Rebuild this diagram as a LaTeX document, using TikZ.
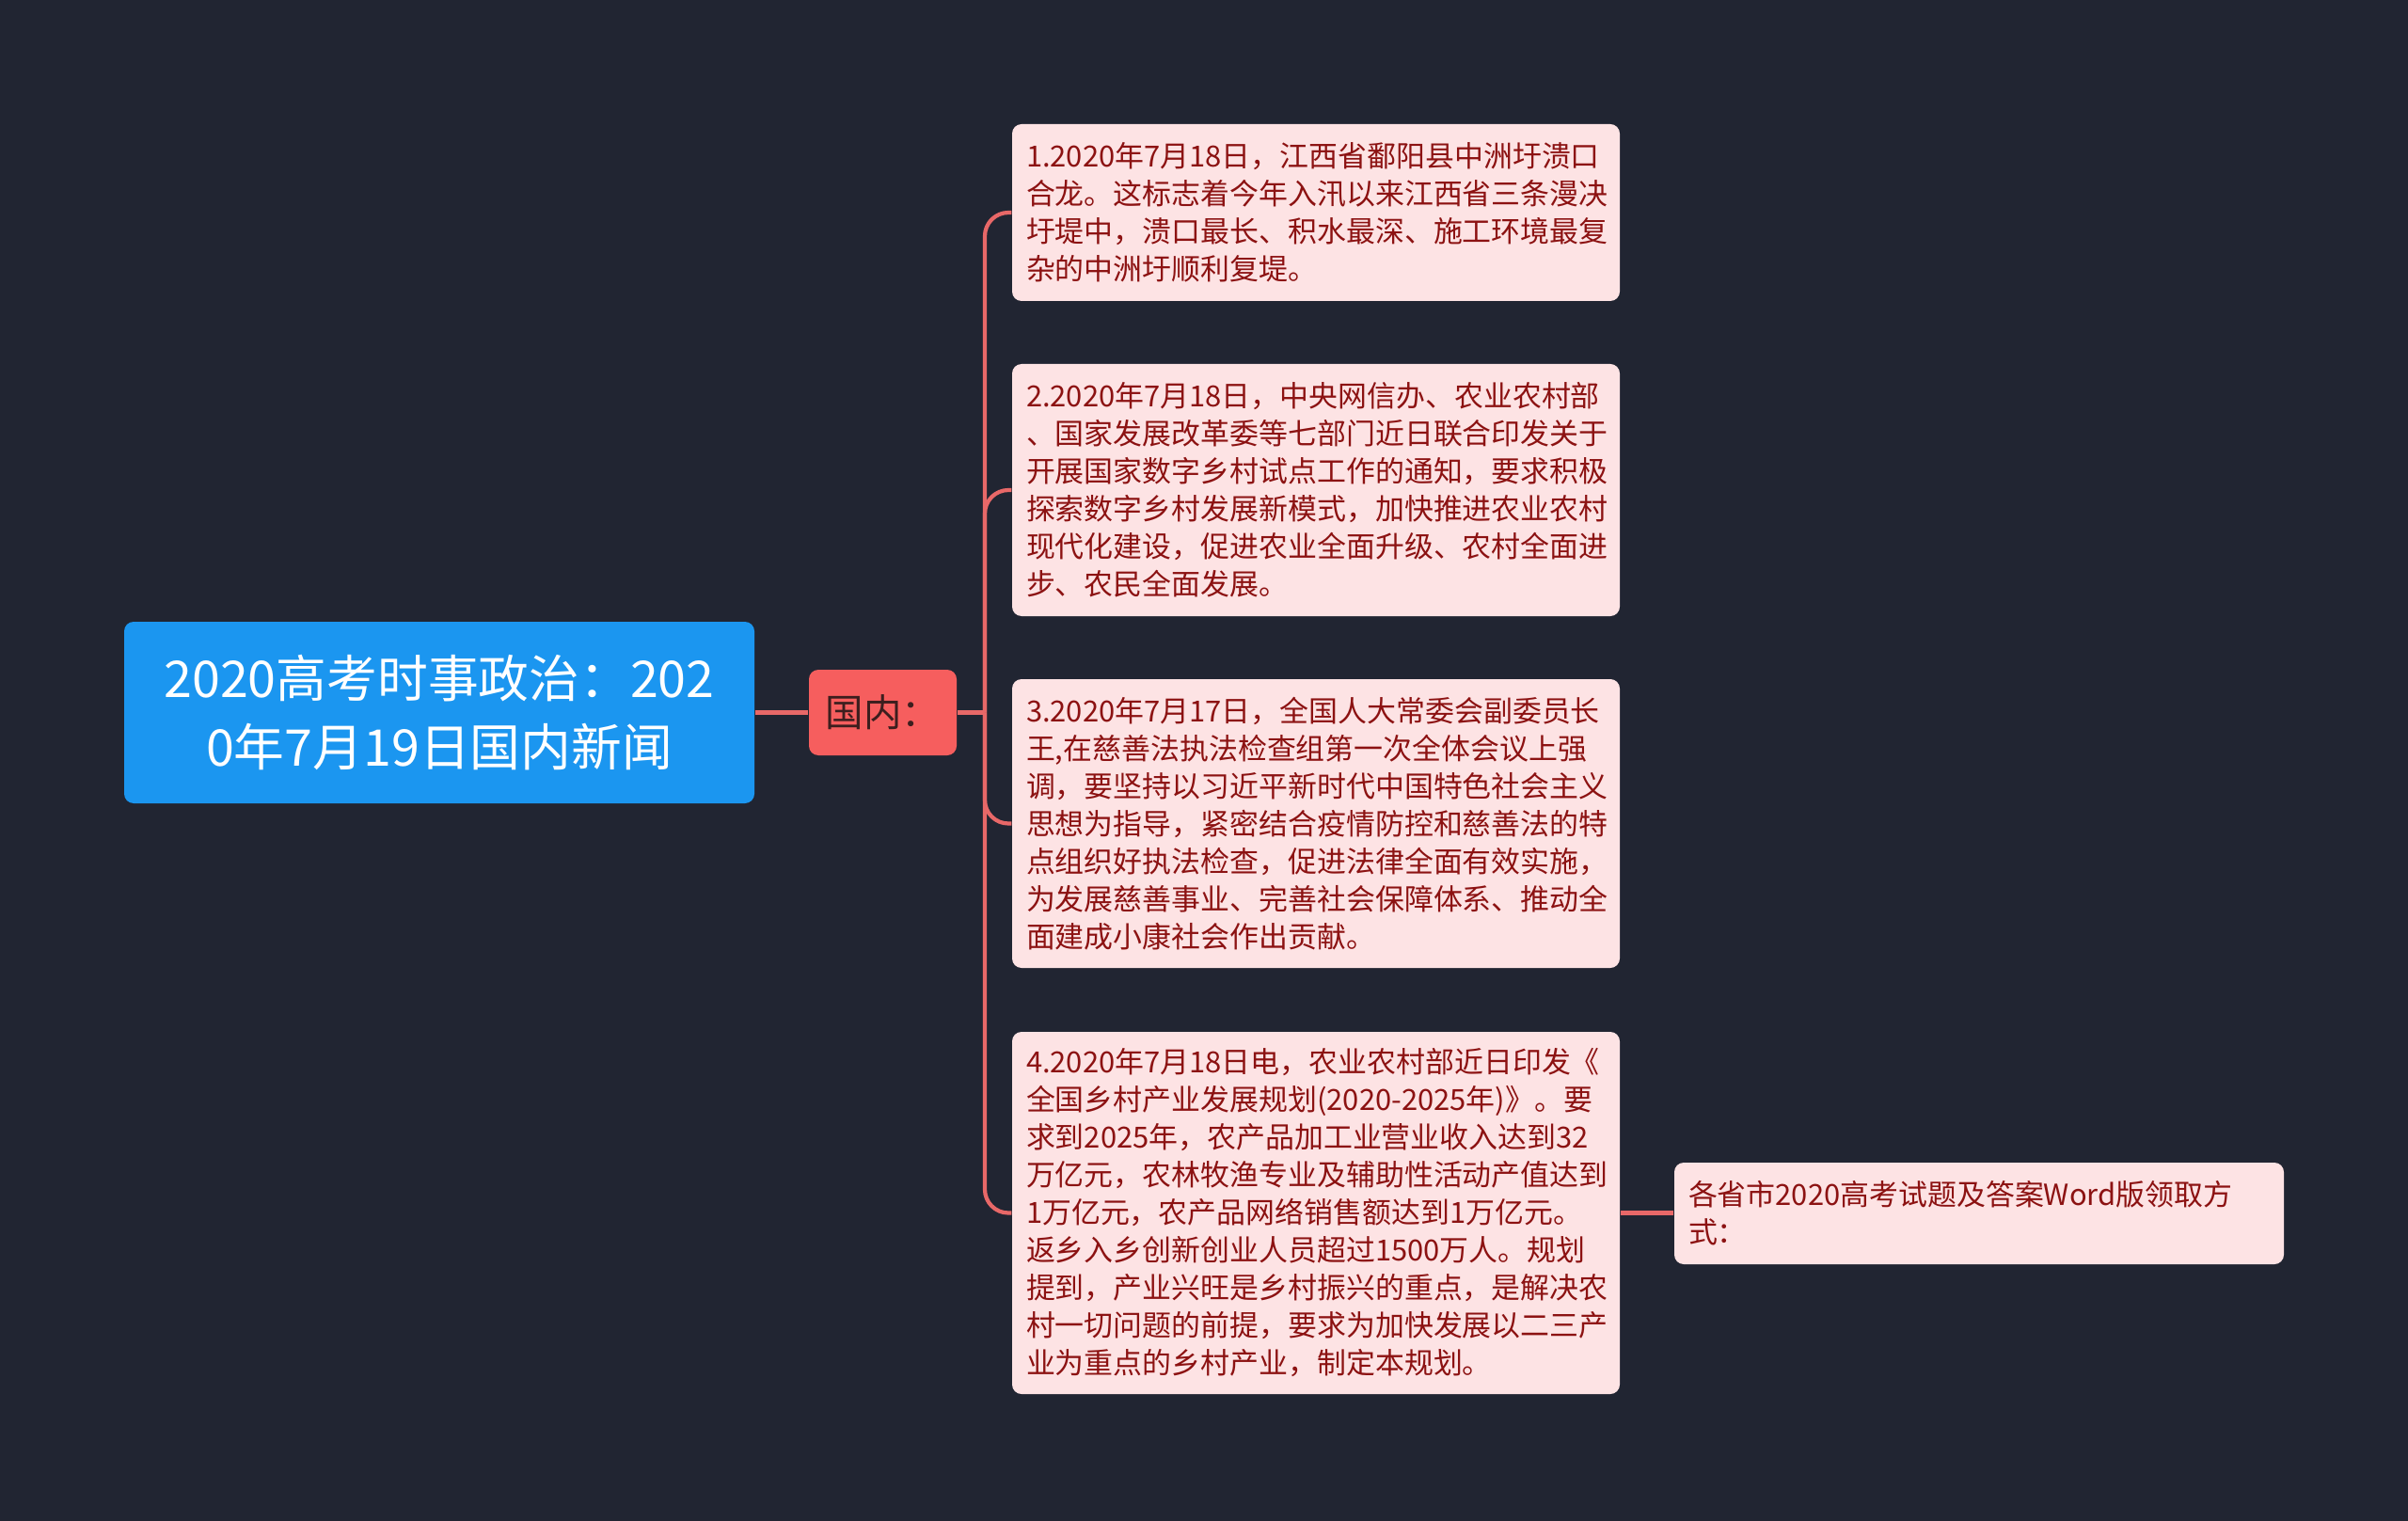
\documentclass[tikz,border=0pt]{standalone}
\usepackage{fontspec}
\setmainfont{Noto Sans CJK SC}
\usepackage{xcolor}
\usetikzlibrary{positioning}
\definecolor{bgdark}{RGB}{33,37,50}
\definecolor{rootblue}{RGB}{27,150,240}
\definecolor{catred}{RGB}{246,94,94}
\definecolor{linkred}{RGB}{232,104,104}
\definecolor{leafpink}{RGB}{253,227,228}
\definecolor{leaftext}{RGB}{140,18,18}
\definecolor{cattext}{RGB}{60,30,30}

\begin{document}
\begin{tikzpicture}[
  rootbox/.style={rectangle, rounded corners=0.1cm, fill=rootblue, text=white, align=center, minimum width=6.70cm, minimum height=1.93cm, font={\fontsize{15.3pt}{20.7pt}\selectfont}},
  catbox/.style={rectangle, rounded corners=0.1cm, fill=catred, text=cattext, minimum width=1.57cm, minimum height=0.91cm, font={\fontsize{11.5pt}{14pt}\selectfont}},
  leafbox/.style={rectangle, rounded corners=0.1cm, fill=leafpink, text=leaftext, align=left, inner xsep=0.15cm, text width=6.16cm, font={\fontsize{8.8pt}{11.38pt}\selectfont}},
  link/.style={draw=linkred, line width=1.2pt}]
\useasboundingbox[fill=bgdark] (0,0) rectangle (25.6,-16.17);

\node[rootbox] (root) at (4.67,-7.575) {2020高考时事政治：202\\0年7月19日国内新闻};
\node[catbox] (guonei) at (9.385,-7.575) {国内：};
\coordinate (trunk) at (10.47,-7.575);

\node[leafbox, minimum height=1.88cm] (n1) at (13.99,-2.26) {1.2020年7月18日，江西省鄱阳县中洲圩溃口\\合龙。这标志着今年入汛以来江西省三条漫决\\圩堤中，溃口最长、积水最深、施工环境最复\\杂的中洲圩顺利复堤。};
\node[leafbox, minimum height=2.68cm] (n2) at (13.99,-5.21) {2.2020年7月18日，中央网信办、农业农村部\\、国家发展改革委等七部门近日联合印发关于\\开展国家数字乡村试点工作的通知，要求积极\\探索数字乡村发展新模式，加快推进农业农村\\现代化建设，促进农业全面升级、农村全面进\\步、农民全面发展。};
\node[leafbox, minimum height=3.07cm] (n3) at (13.99,-8.755) {3.2020年7月17日，全国人大常委会副委员长\\王,在慈善法执法检查组第一次全体会议上强\\调，要坚持以习近平新时代中国特色社会主义\\思想为指导，紧密结合疫情防控和慈善法的特\\点组织好执法检查，促进法律全面有效实施，\\为发展慈善事业、完善社会保障体系、推动全\\面建成小康社会作出贡献。};
\node[leafbox, minimum height=3.85cm] (n4) at (13.99,-12.895) {4.2020年7月18日电，农业农村部近日印发《\\全国乡村产业发展规划(2020-2025年)》。要\\求到2025年，农产品加工业营业收入达到32\\万亿元，农林牧渔专业及辅助性活动产值达到\\1万亿元，农产品网络销售额达到1万亿元。\\返乡入乡创新创业人员超过1500万人。规划\\提到，产业兴旺是乡村振兴的重点，是解决农\\村一切问题的前提，要求为加快发展以二三产\\业为重点的乡村产业，制定本规划。};
\node[leafbox, minimum height=1.08cm, text width=6.18cm] (word) at (21.04,-12.90) {各省市2020高考试题及答案Word版领取方\\式：};

\draw[link] (root) -- (guonei);
\draw[link] (guonei) -- (trunk);
\draw[link, rounded corners=0.25cm] (trunk) |- (n1);
\draw[link, rounded corners=0.25cm] (trunk) |- (n2);
\draw[link, rounded corners=0.25cm] (trunk) |- (n3);
\draw[link, rounded corners=0.25cm] (trunk) |- (n4);
\draw[link] (n4.east) -- (word.west |- n4.east);
\end{tikzpicture}
\end{document}
